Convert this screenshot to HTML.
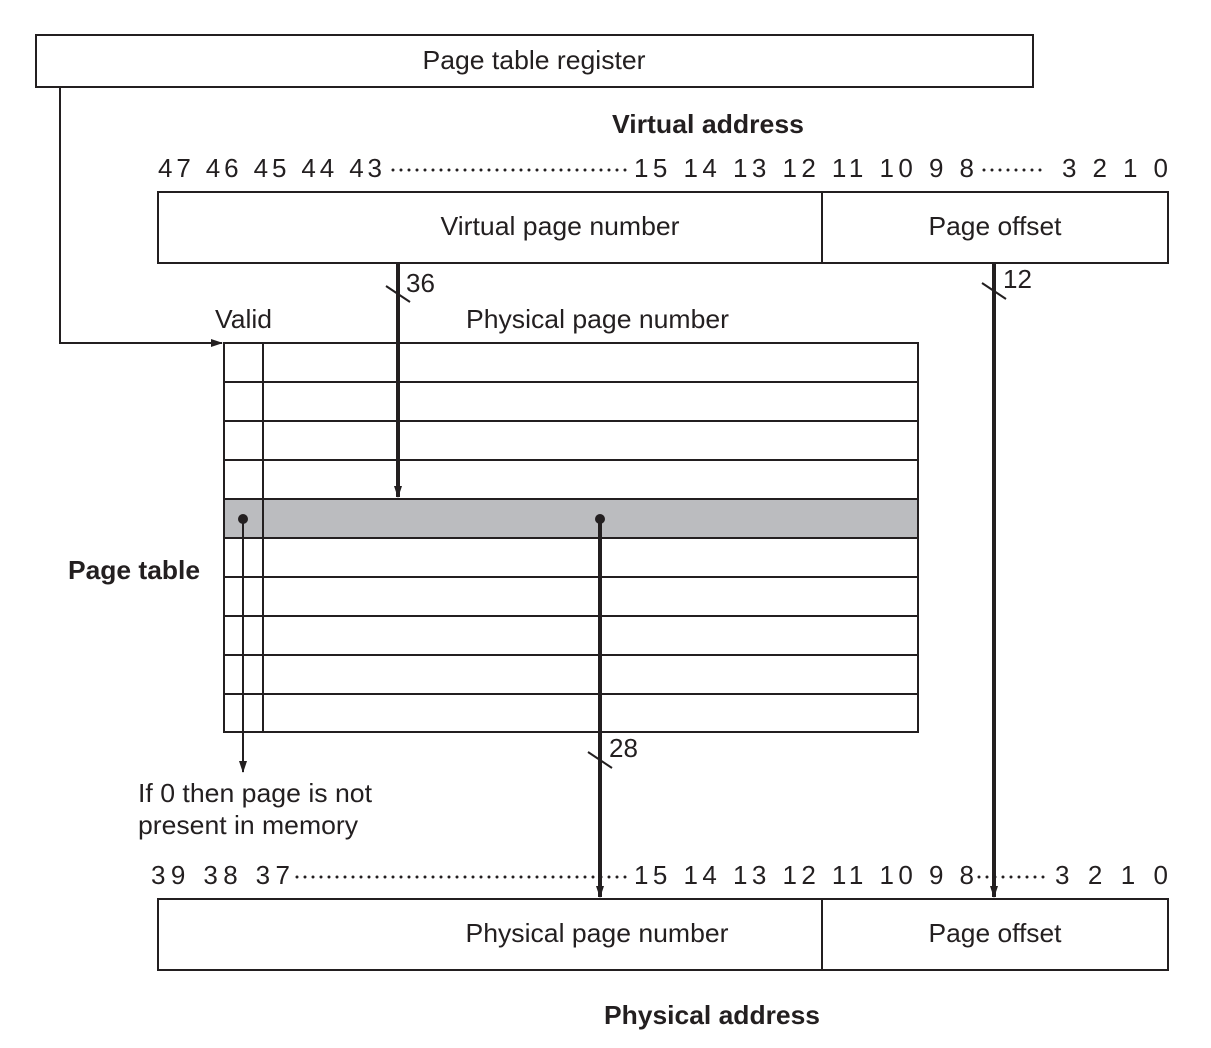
<!DOCTYPE html>
<html><head><meta charset="utf-8"><style>
html,body{margin:0;padding:0;background:#fff;}
svg{display:block;}
text{font-family:"Liberation Sans",sans-serif;fill:#231f20;}
</style></head><body>
<svg width="1211" height="1048" viewBox="0 0 1211 1048" xmlns="http://www.w3.org/2000/svg">
<defs>
<marker id="a" markerWidth="12" markerHeight="8" refX="11" refY="4" orient="auto" markerUnits="userSpaceOnUse">
<path d="M0,0 L12,4 L0,8 Z" fill="#231f20"/></marker>
<marker id="b" markerWidth="12" markerHeight="8" refX="11" refY="4" orient="auto" markerUnits="userSpaceOnUse">
<path d="M0,0 L12,4 L0,8 Z" fill="#231f20"/></marker>
</defs>
<g stroke="#231f20" fill="none" stroke-width="2">
<rect x="36" y="35" width="997" height="52"/>
<polyline points="60,87 60,343 222,343" marker-end="url(#a)"/>
<rect x="158" y="192" width="1010" height="71"/>
<line x1="822" y1="192" x2="822" y2="263"/>
<rect x="158" y="899" width="1010" height="71"/>
<line x1="822" y1="899" x2="822" y2="970"/>
<rect x="224" y="499" width="694" height="39" fill="#bbbcbf"/>
<rect x="224" y="343" width="694" height="389"/>
<line x1="224" y1="382" x2="918" y2="382"/>
<line x1="224" y1="421" x2="918" y2="421"/>
<line x1="224" y1="460" x2="918" y2="460"/>
<line x1="224" y1="499" x2="918" y2="499"/>
<line x1="224" y1="538" x2="918" y2="538"/>
<line x1="224" y1="577" x2="918" y2="577"/>
<line x1="224" y1="616" x2="918" y2="616"/>
<line x1="224" y1="655" x2="918" y2="655"/>
<line x1="224" y1="694" x2="918" y2="694"/>
<line x1="263" y1="343" x2="263" y2="733"/>
<line x1="243" y1="519" x2="243" y2="772" marker-end="url(#b)"/>
<g stroke-width="4">
<line x1="398" y1="263" x2="398" y2="497" marker-end="url(#b)"/>
<line x1="600" y1="519" x2="600" y2="897" marker-end="url(#b)"/>
<line x1="994" y1="263" x2="994" y2="897" marker-end="url(#b)"/>
</g>
<line x1="386" y1="286" x2="410" y2="302"/>
<line x1="982" y1="283" x2="1006" y2="299"/>
<line x1="588" y1="752" x2="612" y2="768"/>
<g stroke-width="3" stroke-linecap="round" stroke-dasharray="0 8">
<line x1="393" y1="170" x2="626" y2="170"/>
<line x1="984" y1="170" x2="1046" y2="170"/>
<line x1="297" y1="877" x2="628" y2="877"/>
<line x1="979" y1="877" x2="1050" y2="877"/>
</g>
</g>
<circle cx="243" cy="519" r="5" fill="#231f20"/>
<circle cx="600" cy="519" r="5" fill="#231f20"/>
<g font-size="26">
<text x="534" y="69" text-anchor="middle" textLength="223" lengthAdjust="spacingAndGlyphs">Page table register</text>
<text x="708" y="133" text-anchor="middle" font-weight="bold" textLength="192" lengthAdjust="spacingAndGlyphs">Virtual address</text>
<text x="560" y="235" text-anchor="middle" textLength="239" lengthAdjust="spacingAndGlyphs">Virtual page number</text>
<text x="995" y="235" text-anchor="middle" textLength="133" lengthAdjust="spacingAndGlyphs">Page offset</text>
<text x="597" y="942" text-anchor="middle" textLength="263" lengthAdjust="spacingAndGlyphs">Physical page number</text>
<text x="995" y="942" text-anchor="middle" textLength="133" lengthAdjust="spacingAndGlyphs">Page offset</text>
<text x="712" y="1024" text-anchor="middle" font-weight="bold" textLength="216" lengthAdjust="spacingAndGlyphs">Physical address</text>
<text x="134" y="579" text-anchor="middle" font-weight="bold" textLength="132" lengthAdjust="spacingAndGlyphs">Page table</text>
<text x="215" y="328" textLength="57" lengthAdjust="spacingAndGlyphs">Valid</text>
<text x="466" y="328" textLength="263" lengthAdjust="spacingAndGlyphs">Physical page number</text>
<text x="406" y="292">36</text>
<text x="1003" y="288">12</text>
<text x="609" y="757">28</text>
<text x="138" y="802" textLength="234" lengthAdjust="spacingAndGlyphs">If 0 then page is not</text>
<text x="138" y="834" textLength="220" lengthAdjust="spacingAndGlyphs">present in memory</text>
<text x="158" y="177" textLength="224" lengthAdjust="spacing">47 46 45 44 43</text>
<text x="634" y="177" textLength="340" lengthAdjust="spacing">15  14  13  12  11  10  9  8</text>
<text x="1062" y="177" textLength="106" lengthAdjust="spacing">3  2  1  0</text>
<text x="151" y="884" textLength="139" lengthAdjust="spacing">39  38  37</text>
<text x="634" y="884" textLength="340" lengthAdjust="spacing">15  14  13  12  11  10  9  8</text>
<text x="1055" y="884" textLength="113" lengthAdjust="spacing">3  2  1  0</text>
</g>
</svg>
</body></html>
